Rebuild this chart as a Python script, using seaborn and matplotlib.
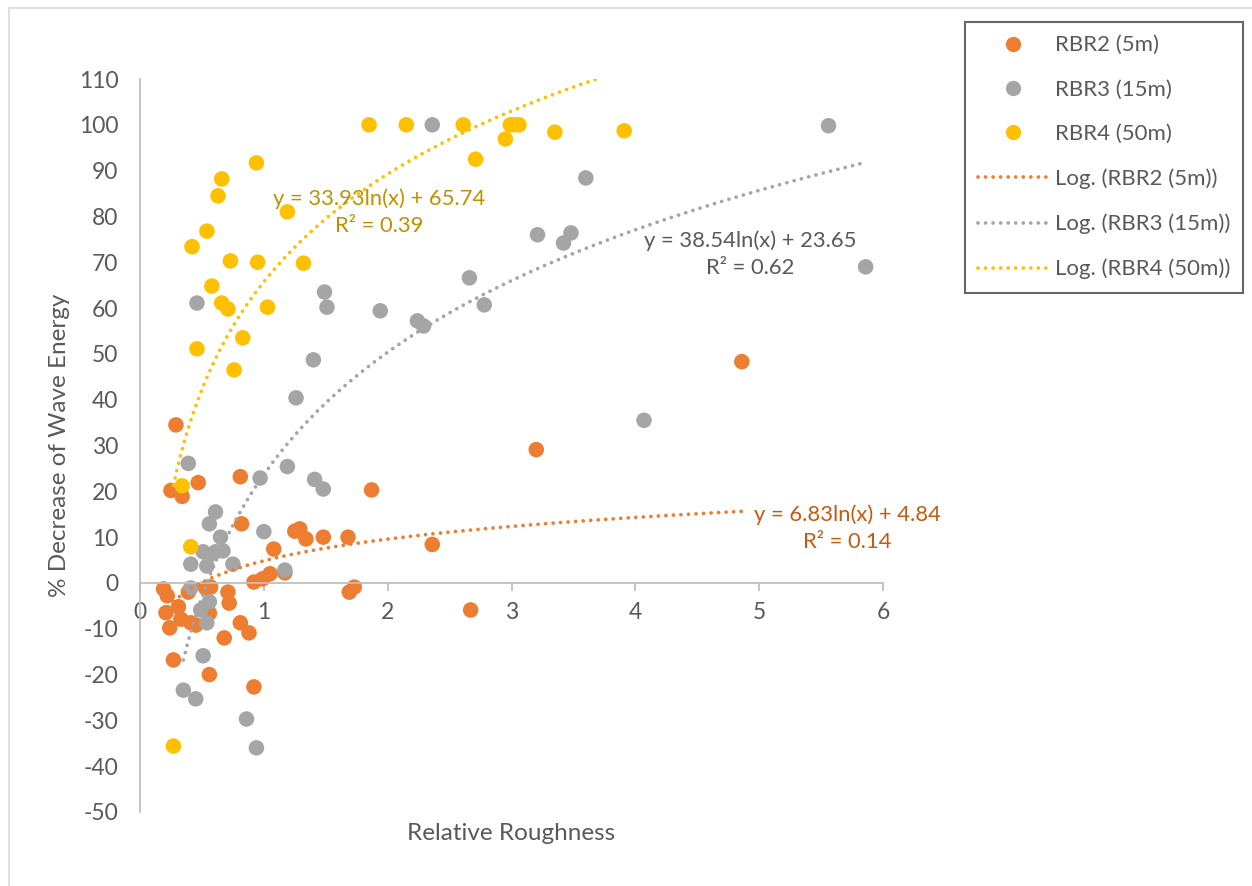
import numpy as np
import pandas as pd
import matplotlib
matplotlib.use("Agg")
import matplotlib.pyplot as plt
from matplotlib.lines import Line2D
from matplotlib.patches import Rectangle
import seaborn as sns

# ---- data ---------------------------------------------------------------
series_names = ["RBR2 (5m)", "RBR3 (15m)", "RBR4 (50m)"]
series_colors = ["#ED7D31", "#A5A5A5", "#FFC000"]
label_colors = ["#C55A11", "#595959", "#BF9000"]

rbr2_x = [0.19, 0.22, 0.21, 0.31, 0.24, 0.33, 0.41, 0.45, 0.39, 0.53, 0.57,
          0.56, 0.71, 0.72, 0.81, 0.88, 0.68, 0.27, 0.56, 0.92, 0.92, 0.99,
          1.05, 1.17, 1.08, 1.25, 1.29, 1.34, 1.48, 1.68, 1.69, 1.73, 1.87,
          0.29, 0.25, 0.34, 0.47, 0.81, 0.82, 2.36, 2.67, 3.20, 4.86]
rbr2_y = [-1.3, -2.8, -6.5, -5.2, -9.8, -7.9, -8.7, -9.2, -2.0, -1.1, -0.9,
          -6.6, -2.0, -4.4, -8.7, -10.9, -12.0, -16.8, -20.0, -22.7, 0.2, 0.9,
          2.0, 2.2, 7.4, 11.3, 11.8, 9.6, 10.0, 10.0, -2.0, -0.9, 20.3,
          34.5, 20.2, 18.9, 21.9, 23.2, 12.9, 8.4, -5.9, 29.1, 48.3]

rbr3_x = [2.36, 5.56, 3.60, 3.21, 3.48, 3.42, 2.66, 2.78, 1.49, 1.51, 1.94,
          2.24, 2.29, 5.86, 1.40, 1.26, 4.07, 1.19, 1.41, 1.48, 0.97, 1.00,
          1.17, 0.75, 0.39, 0.61, 0.56, 0.65, 0.51, 0.56, 0.61, 0.67, 0.41,
          0.54, 0.41, 0.56, 0.49, 0.54, 0.51, 0.35, 0.45, 0.86, 0.94, 0.46]
rbr3_y = [100.0, 99.8, 88.4, 76.0, 76.4, 74.2, 66.6, 60.7, 63.5, 60.2, 59.4,
          57.2, 56.1, 69.0, 48.7, 40.4, 35.5, 25.4, 22.6, 20.5, 22.9, 11.2,
          2.8, 4.1, 26.1, 15.5, 12.9, 10.0, 6.8, 6.1, 6.8, 7.0, 4.1,
          3.7, -1.1, -4.1, -5.9, -8.7, -15.9, -23.4, -25.3, -29.7, -36.0, 61.1]

rbr4_x = [0.94, 0.66, 0.63, 1.19, 0.54, 0.42, 0.73, 0.95, 1.32, 0.58, 0.66,
          0.71, 1.03, 0.83, 0.46, 0.76, 0.34, 0.41, 0.27, 1.85, 2.15, 2.61,
          2.71, 2.95, 2.99, 3.03, 3.06, 3.35, 3.91]
rbr4_y = [91.7, 88.2, 84.5, 81.0, 76.8, 73.4, 70.3, 70.0, 69.8, 64.8, 61.1,
          59.8, 60.2, 53.5, 51.1, 46.5, 21.2, 7.9, -35.6, 100.0, 100.0, 100.0,
          92.5, 96.9, 100.0, 100.0, 100.0, 98.4, 98.7]

# logarithmic trendlines y = a*ln(x) + b, with R^2
trend_a = [6.83, 38.54, 33.93]
trend_b = [4.84, 23.65, 65.74]
trend_r2 = [0.14, 0.62, 0.39]

x_ticks = [0, 1, 2, 3, 4, 5, 6]
y_ticks = list(range(-50, 111, 10))

# ---- frame ---------------------------------------------------------------
df = pd.concat([
    pd.DataFrame({"rr": rbr2_x, "dec": rbr2_y, "series": series_names[0]}),
    pd.DataFrame({"rr": rbr3_x, "dec": rbr3_y, "series": series_names[1]}),
    pd.DataFrame({"rr": rbr4_x, "dec": rbr4_y, "series": series_names[2]}),
], ignore_index=True)

sns.set_theme(style="white")
plt.rcParams["font.family"] = ["Lato", "DejaVu Sans"]

text_col = "#595959"
axis_col = "#BFBFBF"
FS = 16.5        # tick labels
FS_AX = 17.5     # axis titles
FS_EQ = 15.8     # trendline equations
FS_LEG = 16.0    # legend

fig = plt.figure(figsize=(12.52, 8.86), dpi=100)
fig.patch.set_facecolor("white")
ax = fig.add_axes([140 / 1252, 1 - 812 / 886, (883 - 140) / 1252, (812 - 79) / 886])

# light outer chart border
fig.patches.append(Rectangle((9 / 1252, -0.05), 1.2, 1.05 - 8 / 886,
                             transform=fig.transFigure, fill=False,
                             edgecolor="#D9D9D9", linewidth=1.2))

palette = dict(zip(series_names, series_colors))
sns.scatterplot(data=df, x="rr", y="dec", hue="series", hue_order=series_names,
                palette=palette, s=125, edgecolor="none", linewidth=0,
                alpha=1.0, legend=False, ax=ax, zorder=2)

# trendlines over each series' x range
dot_style = (0, (0.01, 2.0))
xs_all = [rbr2_x, rbr3_x, rbr4_x]
for xs, a, b, col in zip(xs_all, trend_a, trend_b, series_colors):
    xx = np.linspace(min(xs), max(xs), 400)
    ax.plot(xx, a * np.log(xx) + b, color=col, linewidth=2.7,
            linestyle=dot_style, dash_capstyle="round", zorder=3, clip_on=True)

# equation labels
eq_pos = [(5.71, 11.9), (4.93, 71.7), (1.93, 81.0)]
for (ex, ey), a, b, r2, lc in zip(eq_pos, trend_a, trend_b, trend_r2, label_colors):
    ax.text(ex, ey, f"y = {a:.2f}ln(x) + {b:.2f}\nR² = {r2:.2f}",
            ha="center", va="center", color=lc, fontsize=FS_EQ, linespacing=1.42,
            zorder=4)

# axes styling
ax.set_xlim(0, 6)
ax.set_ylim(-50, 110)
ax.set_xticks(x_ticks)
ax.set_yticks(y_ticks)
ax.set_xticklabels([str(t) for t in x_ticks])
ax.set_yticklabels([str(t) for t in y_ticks])
ax.spines["top"].set_visible(False)
ax.spines["right"].set_visible(False)
ax.spines["bottom"].set_position(("data", 0))
for sp in ("left", "bottom"):
    ax.spines[sp].set_color(axis_col)
    ax.spines[sp].set_linewidth(1.3)
ax.tick_params(axis="both", which="major", direction="out", length=5.5,
               width=1.3, color=axis_col, labelcolor=text_col, labelsize=FS)
ax.tick_params(axis="y", pad=10)
ax.tick_params(axis="x", pad=8, bottom=True)
ax.grid(False)
ax.set_xlabel("")
ax.set_ylabel("")

fig.text(511 / 1252, 1 - 833 / 886, "Relative Roughness", ha="center", va="center",
         color=text_col, fontsize=FS_AX)
fig.text(60 / 1252, 1 - 445 / 886, "% Decrease of Wave Energy", ha="center",
         va="center", rotation=90, color=text_col, fontsize=FS_AX)

# legend
handles = []
for name, col in zip(series_names, series_colors):
    handles.append(Line2D([], [], linestyle="none", marker="o", markersize=11,
                          markerfacecolor=col, markeredgecolor="none", label=name))
for name, col in zip(series_names, series_colors):
    handles.append(Line2D([], [], color=col, linewidth=2.7, linestyle=dot_style,
                          dash_capstyle="round", label=f"Log. ({name})"))
leg = fig.legend(handles=handles, loc="upper left",
                 bbox_to_anchor=(965 / 1252, 1 - 22 / 886),
                 frameon=True, fancybox=False, fontsize=FS_LEG, labelcolor=text_col,
                 handlelength=3.1, handletextpad=0.33, labelspacing=1.1,
                 borderpad=0.6, borderaxespad=0)
frame = leg.get_frame()
frame.set_edgecolor("#404040")
frame.set_linewidth(1.5)
frame.set_facecolor("white")

fig.savefig("out.png", dpi=100)
